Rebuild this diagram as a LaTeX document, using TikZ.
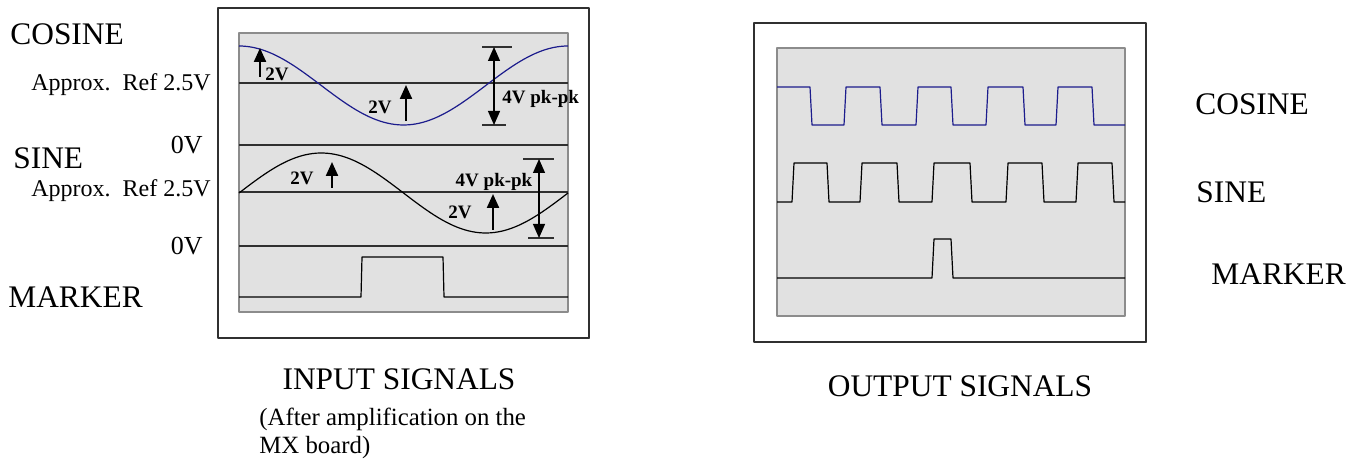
\documentclass[tikz,border=0pt]{standalone}
\usepackage{fontspec}
\setmainfont{Liberation Serif}
\usetikzlibrary{arrows.meta}
\definecolor{scopegrey}{HTML}{E1E1E1}
\definecolor{scopeedge}{HTML}{8C8C8C}
\definecolor{framedark}{HTML}{303030}
\definecolor{cosblue}{HTML}{1C1C8C}

\begin{document}
\begin{tikzpicture}[
  x=0.5pt,
  y=-0.5pt,
  line join=round,
  frame/.style={draw=framedark,line width=0.8pt},
  shadow/.style={draw=framedark,line width=1.4pt},
  screen/.style={fill=scopegrey,draw=scopeedge,line width=0.7pt},
  refline/.style={draw=framedark,line width=0.55pt},
  costrace/.style={draw=cosblue,line width=0.6pt},
  trace/.style={draw=black,line width=0.6pt},
  lvlarrow/.style={draw=black,line width=1.1pt,-{Triangle[length=7pt,width=6pt]}},
  ppkarrow/.style={draw=black,line width=0.6pt,{Triangle[length=7pt,width=6pt]}-{Triangle[length=7pt,width=6pt]}},
  siglabel/.style={font=\fontsize{15.7}{18}\selectfont,inner sep=0pt},
  reflabel/.style={font=\fontsize{12}{14}\selectfont,inner sep=0pt,anchor=east},
  zerolabel/.style={font=\fontsize{13}{15}\selectfont,inner sep=0pt,anchor=east},
  vlabel/.style={font=\fontsize{9.5}{11}\bfseries,inner sep=0pt},
  notelabel/.style={font=\fontsize{12.4}{14}\selectfont,inner sep=0pt,align=left}
]
  \useasboundingbox (0,0) rectangle (1358,459);

  % input scope
  \draw[frame] (218,8) rectangle (589,338);
  \draw[shadow] (589,8) -- (589,338) -- (218,338);
  \path[screen] (239,33) rectangle (568,312);
  \draw[refline] (239,83) -- (568,83);
  \draw[refline] (239,145) -- (568,145);
  \draw[refline] (239,192) -- (568,192);
  \draw[refline] (239,246) -- (568,246);

  % period 329 px, 360/329 = 1.09422
  \draw[costrace] plot[domain=239:568,samples=90] (\x,{85.5-39.5*cos(1.09422*(\x-239))});
  \draw[trace] plot[domain=239:568,samples=90] (\x,{193-40*sin(1.09422*(\x-239))});
  \draw[trace] (239,297) -- (361,297) -- (362,257) -- (443,257) -- (444,297) -- (568,297);

  % cosine levels
  \coordinate (c2a) at (260,77);
  \coordinate (c2b) at (260,48);
  \draw[lvlarrow] (c2a) -- (c2b);
  \node[vlabel,anchor=west] (cpeak) at (265,74) {2V};
  \coordinate (c3a) at (406,121);
  \coordinate (c3b) at (406,85);
  \draw[lvlarrow] (c3a) -- (c3b);
  \node[vlabel] (ctrough) at (380,107) {2V};
  \draw[refline] (482,47) -- (512,47);
  \draw[refline] (482,125) -- (506,125);
  \coordinate (cpkT) at (494,47);
  \coordinate (cpkB) at (494,125);
  \draw[ppkarrow] (cpkT) -- (cpkB);
  \node[vlabel,anchor=west] (cpp) at (502,99) {4V pk-pk};

  % sine levels
  \coordinate (s2a) at (332,188);
  \coordinate (s2b) at (332,162);
  \draw[lvlarrow] (s2a) -- (s2b);
  \node[vlabel] (speak) at (302,178) {2V};
  \coordinate (s3a) at (493,230);
  \coordinate (s3b) at (493,194);
  \draw[lvlarrow] (s3a) -- (s3b);
  \node[vlabel] (strough) at (460,212) {2V};
  \draw[refline] (523,159) -- (554,159);
  \draw[refline] (528,238) -- (554,238);
  \coordinate (spkT) at (539,159);
  \coordinate (spkB) at (539,238);
  \draw[ppkarrow] (spkT) -- (spkB);
  \node[vlabel] (spp) at (494,182) {4V pk-pk};

  \node[siglabel,anchor=west] (incos) at (10,34) {COSINE};
  \node[reflabel] (inref1) at (211,85) {Approx.\ \ Ref 2.5V};
  \node[zerolabel] (inzero1) at (203,145) {0V};
  \node[siglabel,anchor=west] (insin) at (13,158) {SINE};
  \node[reflabel] (inref2) at (211,191) {Approx.\ \ Ref 2.5V};
  \node[zerolabel] (inzero2) at (203,246) {0V};
  \node[siglabel,anchor=west] (inmark) at (8,297) {MARKER};

  \node[siglabel] (intitle) at (399,379) {INPUT SIGNALS};
  \node[notelabel,anchor=north west] (innote) at (259,408) {(After amplification on the\\MX board)};

  % output scope
  \draw[frame] (754,23) rectangle (1146,342);
  \draw[shadow] (1146,23) -- (1146,342) -- (754,342);
  \path[screen] (777,48) rectangle (1125,316);

  \draw[costrace] (777,87) -- (810,87) -- (812,125) -- (844,125) -- (846,87)
    -- (880,87) -- (882,125) -- (916,125) -- (918,87) -- (951,87) -- (953,125)
    -- (986,125) -- (988,87) -- (1023,87) -- (1025,125) -- (1056,125)
    -- (1058,87) -- (1092,87) -- (1094,125) -- (1125,125);
  \draw[trace] (777,202) -- (792,202) -- (794,163) -- (827,163) -- (829,202)
    -- (860,202) -- (862,163) -- (897,163) -- (899,202) -- (932,202)
    -- (934,163) -- (970,163) -- (972,202) -- (1006,202) -- (1008,163)
    -- (1042,163) -- (1044,202) -- (1076,202) -- (1078,163) -- (1112,163)
    -- (1114,202) -- (1125,202);
  \draw[trace] (777,278) -- (932,278) -- (934,239) -- (951,239) -- (953,278) -- (1125,278);

  \node[siglabel,anchor=west] (outcos) at (1195,104) {COSINE};
  \node[siglabel,anchor=west] (outsin) at (1196,192) {SINE};
  \node[siglabel,anchor=west] (outmark) at (1211,274) {MARKER};
  \node[siglabel] (outtitle) at (960,386) {OUTPUT SIGNALS};
\end{tikzpicture}
\end{document}
